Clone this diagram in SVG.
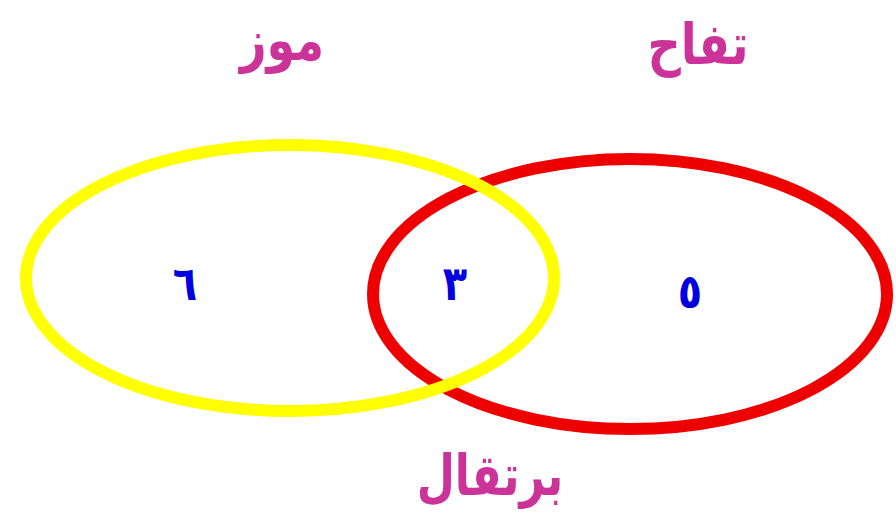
<svg xmlns="http://www.w3.org/2000/svg" width="896" height="520" viewBox="0 0 896 520">
<style>
.set{fill:none;stroke-width:12}
.lbl{font-family:"DejaVu Sans",sans-serif;font-weight:bold;font-size:44px;fill:#cc3399;text-anchor:middle}
.num{font-family:"DejaVu Sans",sans-serif;font-weight:bold;font-size:40px;fill:#0000e0;text-anchor:middle}
</style>
<rect width="896" height="520" fill="#ffffff"/>
<g id="apple">
<ellipse class="set" cx="630" cy="294" rx="257" ry="135" stroke="#ee0000"/>
<text class="lbl" transform="translate(698,64) scale(1.05,1.3)" direction="rtl">تفاح</text>
</g>
<g id="banana">
<ellipse class="set" cx="290" cy="278" rx="264" ry="133" stroke="#ffff00"/>
<text class="lbl" transform="translate(282,60) scale(1.05,1.3)" direction="rtl">موز</text>
</g>
<g id="orange">
<text class="lbl" transform="translate(490,495) scale(1,1.3)" direction="rtl">برتقال</text>
</g>
<g id="counts">
<text class="num" transform="translate(185,300) scale(1,1.2)">٦</text>
<text class="num" transform="translate(455,300) scale(1,1.2)">٣</text>
<text class="num" transform="translate(690,308) scale(1,1.2)">٥</text>
</g>
</svg>
